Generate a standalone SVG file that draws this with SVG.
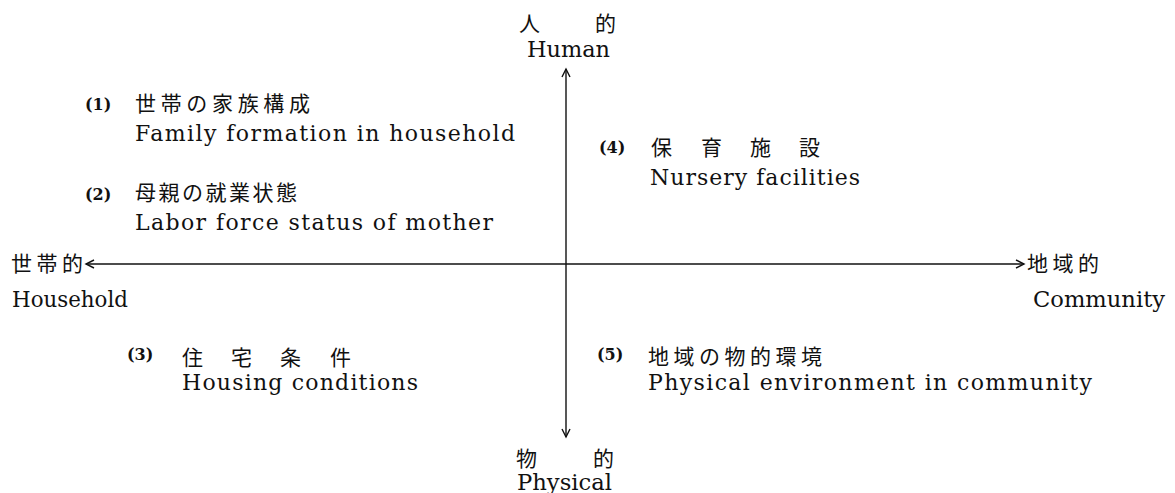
<svg xmlns="http://www.w3.org/2000/svg" width="1175" height="493" viewBox="0 0 1175 493">
<defs>
<style>
.en{font-family:"DejaVu Serif","Liberation Serif",serif;font-size:22px;fill:#111;}
.ja{font-family:"Noto Sans CJK JP","Noto Sans CJK SC",sans-serif;font-size:21px;fill:#111;}
.num{font-family:"DejaVu Serif","Liberation Serif",serif;font-size:16px;font-weight:bold;fill:#111;}
.axis{stroke:#111;stroke-width:1.4;fill:none;}
</style>
<marker id="arr" markerUnits="userSpaceOnUse" markerWidth="12" markerHeight="12" refX="9" refY="5" orient="auto">
<path d="M1,1 L9,5 L1,9" fill="none" stroke="#111" stroke-width="1.4"/>
</marker>
</defs>
<rect width="1175" height="493" fill="#fff"/>
<g id="connectors">
<line class="axis" x1="566" y1="264" x2="566" y2="69" marker-end="url(#arr)"/>
<line class="axis" x1="566" y1="264" x2="566" y2="437" marker-end="url(#arr)"/>
<line class="axis" x1="566" y1="264" x2="86" y2="264" marker-end="url(#arr)"/>
<line class="axis" x1="566" y1="264" x2="1024" y2="264" marker-end="url(#arr)"/>
</g>
<g id="top-human">
<text class="ja" x="519" y="31" font-size="20">人</text>
<text class="ja" x="595" y="31" font-size="20">的</text>
<text class="en" x="527" y="57" textLength="83" lengthAdjust="spacingAndGlyphs">Human</text>
</g>
<g id="bottom-physical">
<text class="ja" x="516" y="466" font-size="19">物</text>
<text class="ja" x="593" y="466" font-size="19">的</text>
<text class="en" x="517" y="490" textLength="95" lengthAdjust="spacingAndGlyphs">Physical</text>
</g>
<g id="left-household">
<text class="ja" x="11" y="271" textLength="72" lengthAdjust="spacing">世帯的</text>
<text class="en" x="12" y="307" textLength="116" lengthAdjust="spacingAndGlyphs">Household</text>
</g>
<g id="right-community">
<text class="ja" x="1027" y="271" textLength="72" lengthAdjust="spacing">地域的</text>
<text class="en" x="1033" y="307" textLength="132" lengthAdjust="spacingAndGlyphs">Community</text>
</g>
<g id="item1">
<text class="num" x="85" y="110">(1)</text>
<text class="ja" x="135" y="111" font-size="22" textLength="175" lengthAdjust="spacing">世帯の家族構成</text>
<text class="en" x="135" y="141" textLength="380" lengthAdjust="spacing">Family formation in household</text>
</g>
<g id="item2">
<text class="num" x="85" y="200">(2)</text>
<text class="ja" x="135" y="200" textLength="162" lengthAdjust="spacing">母親の就業状態</text>
<text class="en" x="135" y="230" textLength="358" lengthAdjust="spacing">Labor force status of mother</text>
</g>
<g id="item3">
<text class="num" x="127" y="360">(3)</text>
<text class="ja" x="182 231 280 330" y="365">住宅条件</text>
<text class="en" x="182" y="390" textLength="236" lengthAdjust="spacing">Housing conditions</text>
</g>
<g id="item4">
<text class="num" x="599" y="153">(4)</text>
<text class="ja" x="651 701 750 799" y="155">保育施設</text>
<text class="en" x="650" y="185" textLength="210" lengthAdjust="spacing">Nursery facilities</text>
</g>
<g id="item5">
<text class="num" x="597" y="360">(5)</text>
<text class="ja" x="648" y="364" font-size="22" textLength="174" lengthAdjust="spacing">地域の物的環境</text>
<text class="en" x="648" y="390" textLength="444" lengthAdjust="spacing">Physical environment in community</text>
</g>
</svg>
